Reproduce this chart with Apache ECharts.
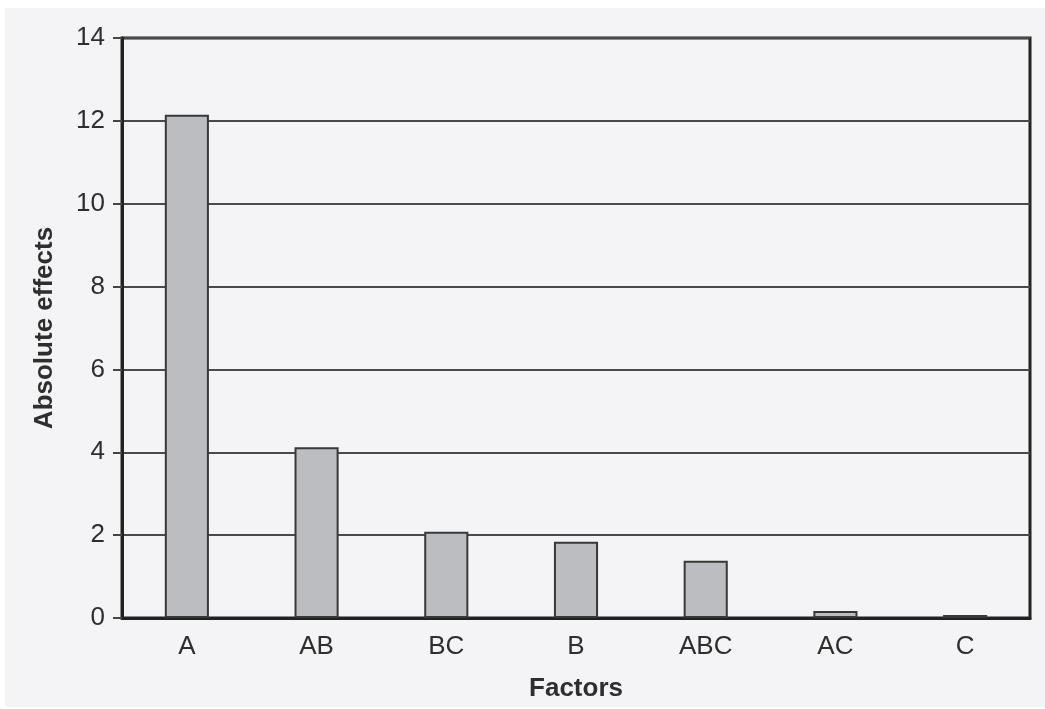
<!DOCTYPE html>
<html>
<head>
<meta charset="utf-8">
<script src="https://cdn.jsdelivr.net/npm/echarts@6/dist/echarts.min.js"></script>
<style>
  html, body { margin: 0; padding: 0; background: #ffffff; }
  #main { position: absolute; left: 5px; top: 8px; width: 1040px; height: 699px; background: #f4f4f6; }
</style>
</head>
<body>
<div id="main"></div>
<script>
// factors and their absolute effects
var factors = ['A', 'AB', 'BC', 'B', 'ABC', 'AC', 'C'];
var effects = [12.15, 4.12, 2.08, 1.84, 1.38, 0.17, 0.07];
var yTicks = [0, 2, 4, 6, 8, 10, 12, 14];

var myChart = echarts.init(document.getElementById('main'));
var font = 'Liberation Sans, Arial, Helvetica, sans-serif';

var option = {
    backgroundColor: '#f4f4f6',
    grid: {
        left: 117,
        right: 15,
        top: 30,
        bottom: 89,
        show: true,
        backgroundColor: 'transparent',
        borderColor: '#222',
        borderWidth: 3
    },
    xAxis: {
        type: 'category',
        data: factors,
        name: 'Factors',
        nameLocation: 'middle',
        nameGap: 58,
        nameTextStyle: { fontFamily: font, fontSize: 26, fontWeight: 'bold', color: '#2e2e2e' },
        axisLine: { lineStyle: { color: '#222', width: 3 } },
        axisTick: { alignWithLabel: true, length: 10, lineStyle: { color: '#333', width: 2 } },
        axisLabel: { fontFamily: font, fontSize: 26, color: '#2e2e2e', margin: 16 },
        splitLine: { show: false }
    },
    yAxis: {
        type: 'value',
        min: yTicks[0],
        max: yTicks[yTicks.length - 1],
        interval: 2,
        name: 'Absolute effects',
        nameLocation: 'middle',
        nameRotate: 90,
        nameGap: 64,
        nameTextStyle: { fontFamily: font, fontSize: 26, fontWeight: 'bold', color: '#2e2e2e' },
        axisLine: { show: true, lineStyle: { color: '#222', width: 3 } },
        axisTick: { show: true, length: 9, lineStyle: { color: '#444', width: 2 } },
        axisLabel: { fontFamily: font, fontSize: 26, color: '#2e2e2e', margin: 17 },
        splitLine: { show: true, lineStyle: { color: '#4a4a4a', width: 2 } }
    },
    series: [{
        type: 'bar',
        data: effects,
        barWidth: '34%',
        itemStyle: { color: '#bcbdc0', borderColor: '#383838', borderWidth: 2 },
        z: 3
    }]
};
myChart.setOption(option);

window.addEventListener('resize', function () {
    myChart.resize();
});
</script>
</body>
</html>
